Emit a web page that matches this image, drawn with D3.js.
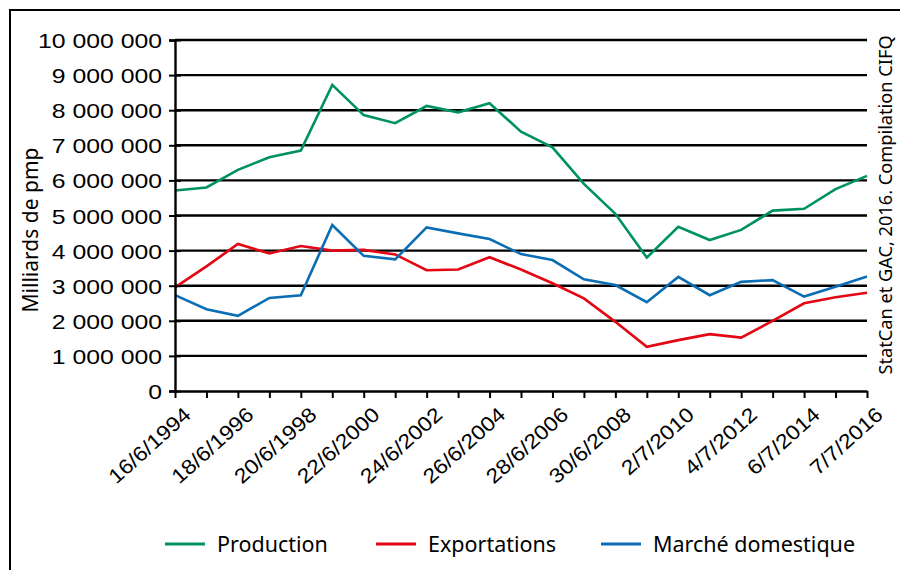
<!DOCTYPE html>
<html>
<head>
<meta charset="utf-8">
<script src="https://cdn.jsdelivr.net/npm/d3@7"></script>
<style>
  body { margin: 0; background: #fff; }
  svg { font-family: "Noto Sans", Lato, sans-serif; }
</style>
</head>
<body>
<svg id="chart" width="900" height="570"></svg>
<script>
// years on the x axis (one point per year)
const years = [1994, 1995, 1996, 1997, 1998, 1999, 2000, 2001, 2002, 2003, 2004, 2005,
               2006, 2007, 2008, 2009, 2010, 2011, 2012, 2013, 2014, 2015, 2016];

// labels shown under the axis (every other year)
const tickYears = [1994, 1996, 1998, 2000, 2002, 2004, 2006, 2008, 2010, 2012, 2014, 2016];
const tickLabels = ["16/6/1994", "18/6/1996", "20/6/1998", "22/6/2000", "24/6/2002", "26/6/2004",
                    "28/6/2006", "30/6/2008", "2/7/2010", "4/7/2012", "6/7/2014", "7/7/2016"];

const production = [5710000, 5800000, 6300000, 6660000, 6850000, 8720000, 7860000, 7630000,
                    8120000, 7940000, 8200000, 7390000, 6940000, 5900000, 5050000, 3800000,
                    4680000, 4300000, 4590000, 5140000, 5190000, 5750000, 6130000];
const exportations = [2950000, 3550000, 4190000, 3920000, 4130000, 4000000, 4020000, 3890000,
                      3440000, 3460000, 3810000, 3460000, 3070000, 2640000, 1970000, 1260000,
                      1450000, 1620000, 1520000, 2000000, 2500000, 2670000, 2800000];
const domestique = [2730000, 2330000, 2140000, 2650000, 2730000, 4730000, 3850000, 3750000,
                    4660000, 4490000, 4330000, 3900000, 3730000, 3180000, 3020000, 2530000,
                    3250000, 2730000, 3110000, 3160000, 2690000, 2970000, 3260000];

const seriesNames = ["Production", "Exportations", "Marché domestique"];
const seriesColors = ["#00925d", "#e30613", "#0b6db3"];
const seriesValues = [production, exportations, domestique];

const svg = d3.select("#chart");

// widen glyphs a bit, the original font has broad digits
const stretch = (sel, k) => sel.each(function () {
    const n = this.getComputedTextLength();
    d3.select(this).attr("textLength", n * k).attr("lengthAdjust", "spacingAndGlyphs");
});

// outer frame
svg.append("rect")
    .attr("x", 10).attr("y", 10)
    .attr("width", 900).attr("height", 580)
    .attr("fill", "none")
    .attr("stroke", "#000")
    .attr("stroke-width", 2);

const plotL = 175, plotR = 867, plotT = 40, plotB = 391;

const x = d3.scalePoint().domain(years).range([plotL, plotR]);
const y = d3.scaleLinear().domain([0, 10000000]).range([plotB, plotT]);

const fr = d3.formatLocale({ decimal: ",", thousands: " ", grouping: [3], currency: ["", ""] });
const fmt = fr.format(",");

// gridlines
svg.append("g")
    .selectAll("line")
    .data(y.ticks(10).filter(d => d > 0))
    .join("line")
    .attr("x1", plotL).attr("x2", plotR)
    .attr("y1", d => y(d)).attr("y2", d => y(d))
    .attr("stroke", "#000")
    .attr("stroke-width", 2.4);

// lines
const line = d3.line().x((d, i) => x(years[i])).y(d => y(d));
seriesValues.forEach((vals, k) => {
    svg.append("path")
        .attr("d", line(vals))
        .attr("fill", "none")
        .attr("stroke", seriesColors[k])
        .attr("stroke-width", 2.6)
        .attr("stroke-linejoin", "miter");
});

// y axis
const yAxis = svg.append("g")
    .attr("transform", `translate(${plotL},0)`)
    .call(d3.axisLeft(y).ticks(10).tickFormat(fmt).tickSize(6).tickPadding(7));
yAxis.select(".domain").attr("stroke-width", 2.4);
yAxis.selectAll(".tick line").attr("x2", 6).attr("x1", -6).attr("stroke-width", 2);
yAxis.selectAll("text").attr("font-size", 21).attr("fill", "#000").attr("dy", "0.36em");
stretch(yAxis.selectAll("text"), 1.18);

// x axis
const labelOf = new Map(tickYears.map((yr, i) => [yr, tickLabels[i]]));
const xAxis = svg.append("g")
    .attr("transform", `translate(0,${plotB})`)
    .call(d3.axisBottom(x).tickValues(years).tickFormat(d => labelOf.get(d) || "").tickSize(7).tickSizeOuter(0));
xAxis.select(".domain").attr("stroke-width", 2.4);
xAxis.selectAll(".tick line").attr("stroke-width", 2);
xAxis.selectAll("text")
    .attr("font-size", 20.5)
    .attr("fill", "#000")
    .attr("text-anchor", "end")
    .attr("dy", 0)
    .attr("transform", "translate(10,18) rotate(-42)");
stretch(xAxis.selectAll("text").filter(function () { return this.textContent !== ""; }), 1.12);

// y title
svg.append("text")
    .attr("transform", "translate(38,230) rotate(-90)")
    .attr("text-anchor", "middle")
    .attr("font-size", 21)
    .text("Milliards de pmp");

// source note on the right
svg.append("text")
    .attr("transform", "translate(892,205) rotate(-90)")
    .attr("text-anchor", "middle")
    .attr("font-size", 18.2)
    .text("StatCan et GAC, 2016. Compilation CIFQ");

// legend
const legendX = [165, 376, 601];
seriesNames.forEach((name, k) => {
    const g = svg.append("g").attr("transform", `translate(${legendX[k]},544)`);
    g.append("line")
        .attr("x1", 0).attr("x2", 40)
        .attr("stroke", seriesColors[k])
        .attr("stroke-width", 3);
    g.append("text")
        .attr("x", 52).attr("y", 8)
        .attr("font-size", 21.5)
        .text(name);
});
</script>
</body>
</html>
